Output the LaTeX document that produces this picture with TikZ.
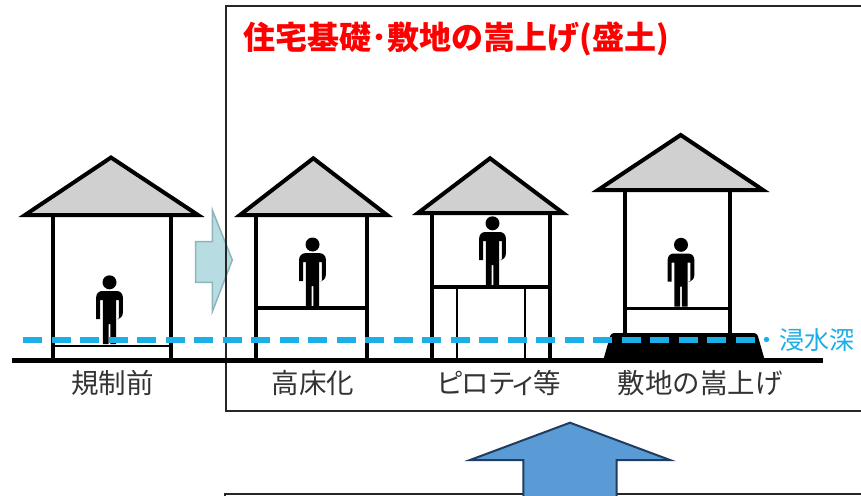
\documentclass[tikz,border=0pt]{standalone}
\usepackage{fontspec}
\newfontfamily\jp{Noto Sans CJK JP}
\definecolor{roofgray}{HTML}{D0D0D0}
\definecolor{water}{HTML}{1CAEE6}
\definecolor{labelgray}{HTML}{333333}
\definecolor{tealfill}{HTML}{B7DCE2}
\definecolor{tealline}{HTML}{8DB6BC}
\definecolor{arrowfill}{HTML}{5B9BD5}
\definecolor{arrowline}{HTML}{1F3D5E}
\begin{document}
\begin{tikzpicture}[x=1pt,y=-1pt,
  wall/.style={line width=4pt},
  roof/.style={fill=roofgray,draw=black,line width=4pt,line join=miter},
  floorline/.style={line width=3.5pt},
  pillar/.style={line width=2pt},
  ground/.style={line width=5pt},
  waterline/.style={draw=water,line width=6pt,dash pattern=on 19pt off 9.5pt},
  frame/.style={draw=black!85,line width=2pt},
  caption/.style={font=\jp\fontsize{27.5}{32}\selectfont,text=labelgray,inner sep=0pt},
  person/.pic={
    \fill (0,-61.7) circle (7);
    \fill (-13.3,-25) [rounded corners=6] -- (-13.3,-53) -- (13.3,-53) -- (13.3,-25)
      [sharp corners] -- (9.3,-25) -- (9.3,-44) -- (6.6,-44) -- (6.6,0) -- (0.8,0)
      -- (0.8,-20) -- (-0.8,-20) -- (-0.8,0) -- (-6.6,0) -- (-6.6,-44) -- (-9.3,-44)
      -- (-9.3,-25) -- cycle;
  }
]
\useasboundingbox (0,0) rectangle (861,495);
\clip (0,0) rectangle (861,495);
\fill[white] (0,0) rectangle (861,495);

% right-pointing transition arrow
\filldraw[fill=tealfill,draw=tealline,line width=1.5pt,line join=miter]
  (195.7,241.7) -- (212.3,241.7) -- (212.3,210) -- (232.3,260)
  -- (212.3,311.7) -- (212.3,282.3) -- (195.7,282.3) -- cycle;

% frame of the countermeasures
\draw[frame] (226,6) rectangle (900,411);
\node[anchor=west,inner sep=0pt,text=red,font=\jp\bfseries\fontsize{32}{38}\selectfont]
  (title) at (243,39) {住宅基礎･敷地の嵩上げ(盛土)};

% house 1: before regulation
\draw[wall] (52.7,215) -- (52.7,360) (170.7,215) -- (170.7,360);
\draw[line width=2.5pt] (52.7,346) -- (170.7,346);
\draw[roof] (25,215) -- (111,157.5) -- (198,215) -- cycle;
\pic at (109.5,344) {person};

% house 2: raised floor
\draw[wall] (256,215) -- (256,360) (366.7,215) -- (366.7,360);
\draw[floorline] (256,308) -- (366.7,308);
\draw[roof] (240,215) -- (313.3,158.3) -- (387,215) -- cycle;
\pic at (312.5,306.2) {person};

% house 3: pilotis
\draw[wall] (431.7,213) -- (431.7,360) (550,213) -- (550,360);
\draw[pillar] (457,287) -- (457,360) (525,287) -- (525,360);
\draw[line width=4pt] (431.7,287) -- (550,287);
\draw[roof] (418,213) -- (490,158.3) -- (563,213) -- cycle;
\pic at (492.5,285) {person};

% house 4: raised ground
\fill[rounded corners=3] (603,361) -- (611,333) -- (757,333) -- (765,361) -- cycle;
\draw[wall] (625,190) -- (625,334) (730,190) -- (730,334);
\draw[line width=3pt] (625,308) -- (730,308);
\draw[roof] (598,190) -- (680.7,135) -- (763,190) -- cycle;
\pic at (681,306.5) {person};

% ground and flood level
\draw[ground] (12,360.5) -- (823,360.5);
\draw[waterline] (23,340) -- (754.5,340);
\node[anchor=west,inner sep=0pt,text=water,font=\jp\fontsize{25}{30}\selectfont]
  (depth) at (754.5,340) {・浸水深};

% captions
\node[caption] (before) at (112.5,383) {規制前};
\node[caption] (raised) at (313,383) {高床化};
\node[caption,font=\jp\fontsize{27.5}{32}\selectfont\addfontfeature{RawFeature=+palt}]
  (piloti) at (499,383) {ピロティ等};
\node[caption] (mound) at (700,383) {敷地の嵩上げ};

% lower frame and upward arrow
\draw[frame] (225,493.5) rectangle (900,600);
\filldraw[fill=arrowfill,draw=arrowline,line width=2pt,line join=miter]
  (523.3,500) -- (523.3,460) -- (470,460) -- (570,422.7) -- (670,460)
  -- (616.7,460) -- (616.7,500) -- cycle;
\end{tikzpicture}
\end{document}
